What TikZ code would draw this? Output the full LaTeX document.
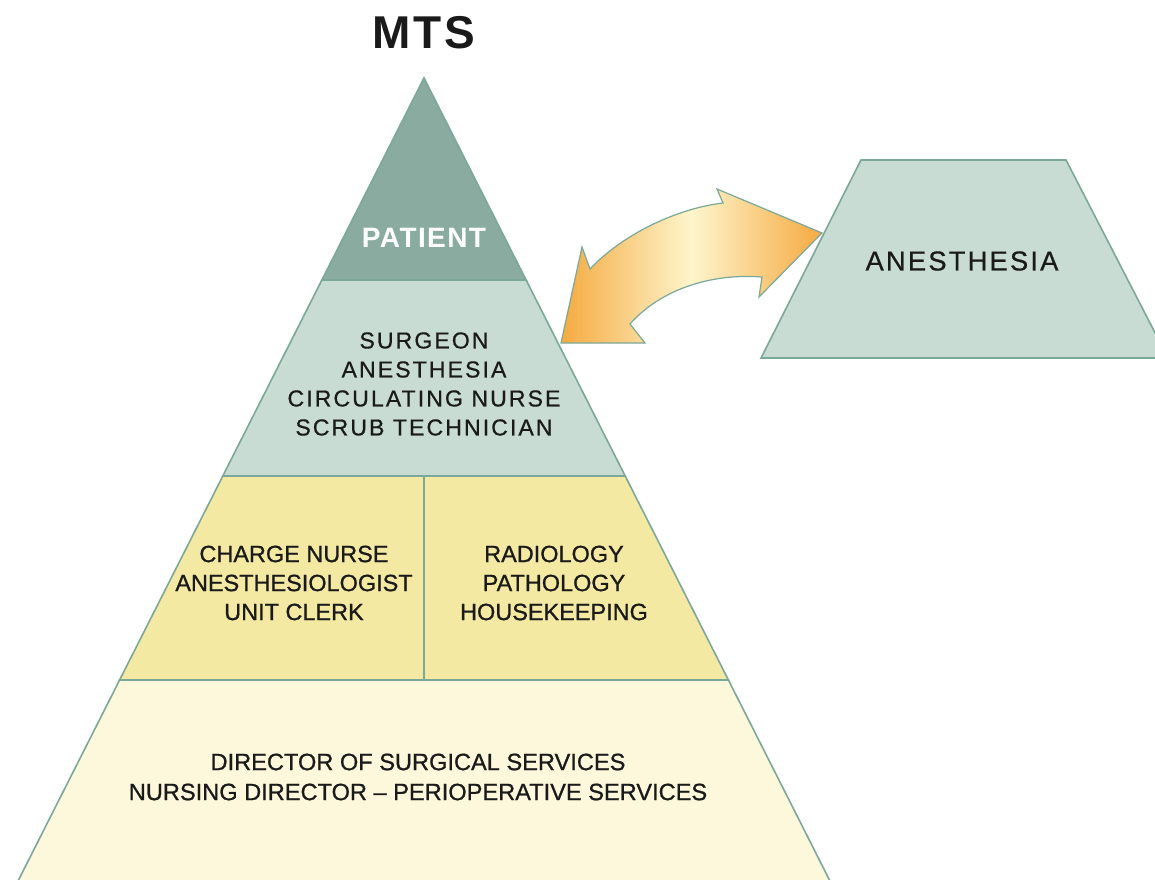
\documentclass[tikz,border=0pt]{standalone}
\usepackage{fontspec}
\setmainfont{Liberation Sans}
\newfontfamily\widefont[LetterSpace=9,FakeBold=0.6]{Liberation Sans}
\newfontfamily\titlefont[LetterSpace=6]{Liberation Sans}
\newfontfamily\patfont[LetterSpace=5]{Liberation Sans}
\newfontfamily\anesfont[LetterSpace=8,FakeBold=0.6]{Liberation Sans}
\newfontfamily\boldishfont[FakeBold=0.9]{Liberation Sans}
\definecolor{patientc}{HTML}{8AAB9F}
\definecolor{teamc}{HTML}{C9DCD3}
\definecolor{supc}{HTML}{F4E9A3}
\definecolor{dirc}{HTML}{FDF8DC}
\definecolor{edgec}{HTML}{7BA898}
\definecolor{orangec}{HTML}{F5AA40}
\definecolor{creamc}{HTML}{FDF5CC}
\definecolor{textc}{HTML}{1A1A1A}
\tikzset{
  band/.style={draw=edgec, line width=1.2pt, line join=miter},
  lbl/.style={align=center, text=textc, inner sep=0pt},
}
\begin{document}
\begin{tikzpicture}[x=0.75pt,y=-0.75pt]
\useasboundingbox (0,0) rectangle (1155,879);
\clip (0,0) rectangle (1155,879);
\fill[white] (0,0) rectangle (1155,879);
% pyramid bands
\draw[band, fill=patientc] (424,78) -- (526.1,280) -- (321.9,280) -- cycle;
\draw[band, fill=teamc] (321.9,280) -- (526.1,280) -- (625.2,476) -- (222.8,476) -- cycle;
\draw[band, fill=supc] (222.8,476) -- (625.2,476) -- (728.4,680) -- (119.6,680) -- cycle;
\draw[band, fill=dirc] (119.6,680) -- (728.4,680) -- (832,885) -- (16,885) -- cycle;
\draw[band] (424,476) -- (424,680);
% trapezoid
\draw[band, fill=teamc] (861,160) -- (1066,160) -- (1168,358) -- (761,358) -- cycle;
% double arrow
\shade[left color=orangec, right color=orangec, middle color=creamc, draw=edgec, line width=0.9pt, line join=miter]
  (561,343) -- (582,247) -- (590,269)
  .. controls (625,232) and (680,208) .. (723,203)
  -- (717,189) -- (822,233) -- (759,297) -- (762,277)
  .. controls (710,273) and (660,290) .. (630,324)
  -- (645,343) -- cycle;
% texts
\node[lbl, font=\titlefont\bfseries\fontsize{34.5}{38}\selectfont] (mts) at (424,33) {MTS};
\node[lbl, text=white, font=\patfont\bfseries\fontsize{21}{24}\selectfont] (patient) at (424,238) {PATIENT};
\node[lbl, font=\widefont\fontsize{17.3}{21.75}\selectfont] (team) at (424,384)
  {SURGEON\\ANESTHESIA\\CIRCULATING NURSE\\SCRUB TECHNICIAN};
\node[lbl, font=\boldishfont\fontsize{17.6}{21.75}\selectfont] (left) at (294,583)
  {CHARGE NURSE\\ANESTHESIOLOGIST\\UNIT CLERK};
\node[lbl, font=\boldishfont\fontsize{17.6}{21.75}\selectfont] (right) at (554,583)
  {RADIOLOGY\\PATHOLOGY\\HOUSEKEEPING};
\node[lbl, font=\boldishfont\fontsize{17.7}{22.5}\selectfont] (dir) at (418,777)
  {DIRECTOR OF SURGICAL SERVICES\\NURSING DIRECTOR – PERIOPERATIVE SERVICES};
\node[lbl, font=\anesfont\fontsize{20.5}{24}\selectfont] (anes) at (962,261) {ANESTHESIA};
\end{tikzpicture}
\end{document}
